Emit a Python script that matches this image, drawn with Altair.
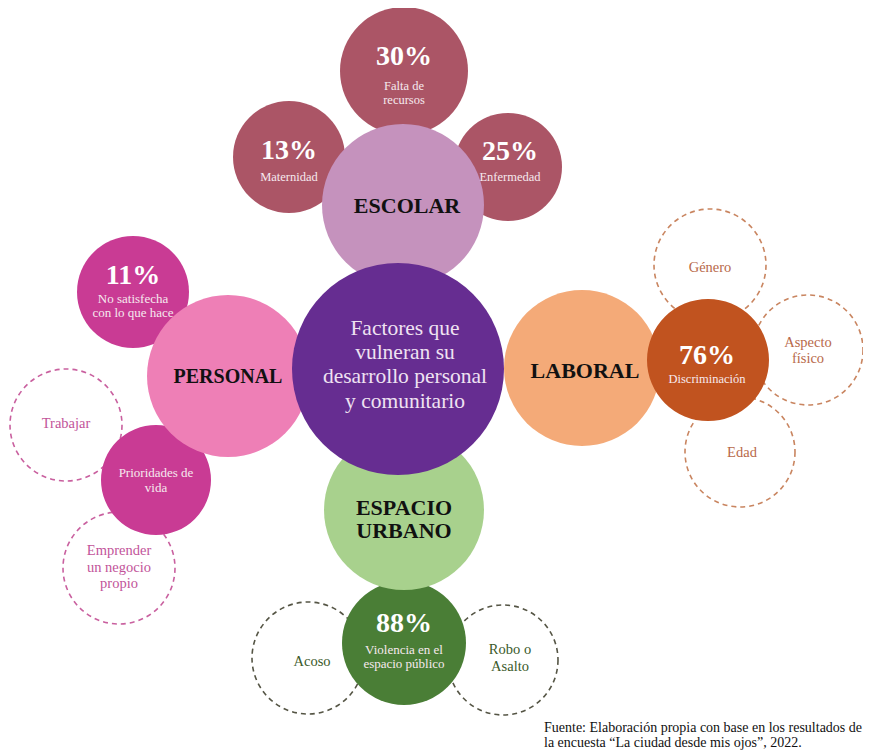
import altair as alt
import pandas as pd

# ---- circles (layout of the diagram, in reference pixel units) ----
c_name = ["Trabajar", "Emprender", "Genero", "Aspecto", "Edad", "Acoso", "Robo",
          "p30", "p13", "p25", "p11", "Prioridades", "p88",
          "ESCOLAR", "PERSONAL", "LABORAL", "ESPACIO",
          "p76", "CENTRO"]
c_x = [66, 119, 710, 808, 740, 308, 503,
       404, 289, 508, 133, 156, 404,
       403, 228, 582, 404,
       708, 398]
c_y = [425, 568, 265, 350, 452, 658, 660,
       71, 157, 167, 292, 480, 643,
       205, 376, 368, 510,
       360, 369]
c_r = [56, 56, 56, 55, 55, 56, 55,
       64, 56, 54, 56, 55, 62,
       81, 81, 78, 80,
       61, 106]
c_fill = [None, None, None, None, None, None, None,
          "#ab5566", "#ab5566", "#ab5566", "#c93b94", "#c93b94", "#4a7e36",
          "#c592bd", "#ee7fb6", "#f4aa78", "#a8d18d",
          "#c1531f", "#662d91"]
c_stroke = ["#c9609f", "#c9609f", "#c98560", "#c98560", "#c98560", "#555545", "#555545"] + [None] * 12
c_layer = [0] * 7 + [1] * 6 + [2] * 4 + [3] * 2

circles = pd.DataFrame({"name": c_name, "x": c_x, "y": c_y, "r": c_r,
                        "fill": c_fill, "stroke": c_stroke, "layer": c_layer})
circles["size"] = (2 * circles["r"]) ** 2

# ---- texts ----
WHITE = "#ffffff"
SOFT = "#f6e9ee"
BLACK = "#111111"
t_text = ["30%", "Falta de", "recursos",
          "13%", "Maternidad",
          "25%", "Enfermedad",
          "ESCOLAR",
          "11%", "No satisfecha", "con lo que hace",
          "PERSONAL",
          "Trabajar",
          "Prioridades de", "vida",
          "Emprender", "un negocio", "propio",
          "Factores que", "vulneran su", "desarrollo personal", "y comunitario",
          "LABORAL",
          "76%", "Discriminación",
          "Género", "Aspecto", "físico", "Edad",
          "ESPACIO", "URBANO",
          "88%", "Violencia en el", "espacio público",
          "Acoso", "Robo o", "Asalto"]
t_x = [404, 404, 404,
       289, 289,
       510, 510,
       407,
       133, 133, 133,
       228,
       66,
       156, 156,
       119, 119, 119,
       405, 405, 405, 405,
       585,
       707, 707,
       710, 808, 808, 742,
       404, 404,
       404, 404, 404,
       312, 510, 510]
t_y = [57, 86, 100,
       151, 177,
       152, 177,
       206,
       276, 299, 313,
       377,
       424,
       473, 488,
       551, 568, 584,
       329, 353, 377, 402,
       371,
       356, 379,
       268, 343, 359, 453,
       508, 531,
       624, 650, 664,
       662, 650, 667]
t_size = [28, 12.5, 12.5,
          28, 12.5,
          28, 12.5,
          22,
          28, 13, 13,
          20,
          14.5,
          13, 13,
          14.5, 14.5, 14.5,
          21.5, 21.5, 21.5, 21.5,
          22,
          28, 12.5,
          14.5, 14.5, 14.5, 14.5,
          22, 22,
          28, 13, 13,
          14.5, 14.5, 14.5]
t_weight = ["bold", "normal", "normal",
            "bold", "normal",
            "bold", "normal",
            "bold",
            "bold", "normal", "normal",
            "bold",
            "normal",
            "normal", "normal",
            "normal", "normal", "normal",
            "normal", "normal", "normal", "normal",
            "bold",
            "bold", "normal",
            "normal", "normal", "normal", "normal",
            "bold", "bold",
            "bold", "normal", "normal",
            "normal", "normal", "normal"]
PINK = "#c2549a"
BROWN = "#b8694a"
GREEN = "#3b5a2a"
LAV = "#efe2f2"
t_color = [WHITE, SOFT, SOFT,
           WHITE, SOFT,
           WHITE, SOFT,
           BLACK,
           WHITE, SOFT, SOFT,
           BLACK,
           PINK,
           SOFT, SOFT,
           PINK, PINK, PINK,
           LAV, LAV, LAV, LAV,
           BLACK,
           WHITE, SOFT,
           BROWN, BROWN, BROWN, BROWN,
           BLACK, BLACK,
           WHITE, SOFT, SOFT,
           GREEN, GREEN, GREEN]

texts = pd.DataFrame({"text": t_text, "x": t_x, "y": t_y, "size": t_size,
                      "weight": t_weight, "color": t_color})

source_lines = ["Fuente: Elaboración propia con base en los resultados de",
                "la encuesta “La ciudad desde mis ojos”, 2022."]
source = pd.DataFrame({"text": source_lines, "x": [544, 544], "y": [728, 743]})

W, H = 855, 743
xs = alt.Scale(domain=[8, 8 + W], nice=False, zero=False)
ys = alt.Scale(domain=[8 + H, 8], nice=False, zero=False)
X = alt.X("x:Q", scale=xs, axis=None)
Y = alt.Y("y:Q", scale=ys, axis=None)

base = alt.Chart(circles)

dashed = base.transform_filter("datum.layer == 0").mark_point(
    shape="circle", filled=False, strokeDash=[5, 4], strokeWidth=1.6, opacity=1
).encode(X, Y, size=alt.Size("size:Q", scale=None),
         stroke=alt.Stroke("stroke:N", scale=None))

def filled_layer(k):
    return base.transform_filter(f"datum.layer == {k}").mark_point(
        shape="circle", filled=True, opacity=1, strokeWidth=0
    ).encode(X, Y, size=alt.Size("size:Q", scale=None),
             fill=alt.Fill("fill:N", scale=None))

txt_layers = []
for w in ["bold", "normal"]:
    txt_layers.append(
        alt.Chart(texts).transform_filter(f"datum.weight == '{w}'").mark_text(
            font="Liberation Serif", fontWeight=w, align="center", baseline="middle"
        ).encode(X, Y, text="text:N",
                 size=alt.Size("size:Q", scale=None),
                 color=alt.Color("color:N", scale=None))
    )

src = alt.Chart(source).mark_text(
    font="Liberation Serif", fontSize=14, align="left", baseline="middle", color="#111111"
).encode(X, Y, text="text:N")

chart = alt.layer(dashed, filled_layer(1), filled_layer(2), filled_layer(3),
                  *txt_layers, src).properties(
    width=W, height=H, padding=0, background="#ffffff",
    autosize=alt.AutoSizeParams(type="none")
).configure_view(stroke="transparent", strokeWidth=0)

chart.save("out.html", embed_options={"renderer": "svg", "actions": False})
